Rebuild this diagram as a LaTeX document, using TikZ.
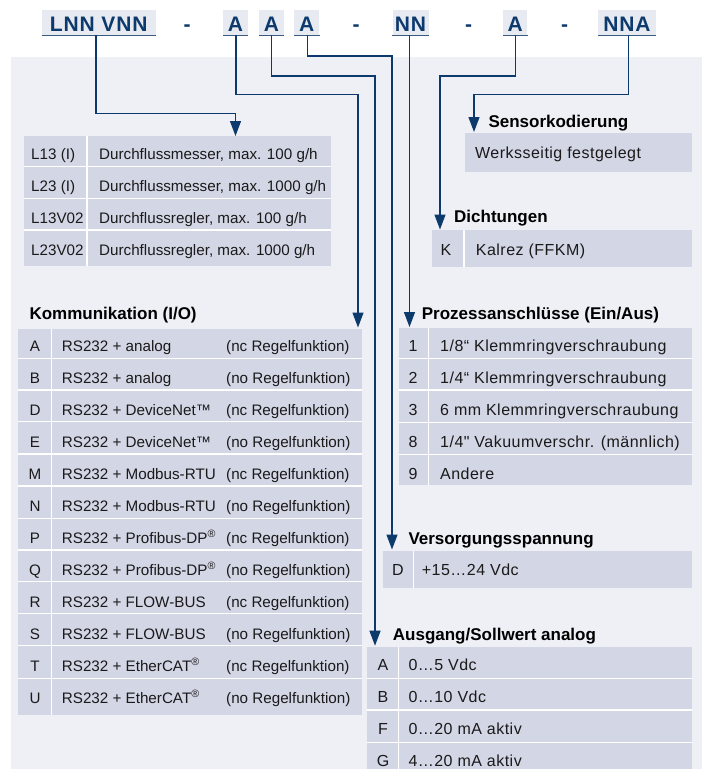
\documentclass[tikz,border=0pt]{standalone}
\usepackage{fontspec}
\setmainfont{Liberation Sans}
\newfontfamily\rfont{Liberation Sans}[LetterSpace=3]
\newfontfamily\cfont{Liberation Sans}[LetterSpace=4]
\usetikzlibrary{arrows.meta}
\definecolor{panel}{HTML}{EFF0F6}
\definecolor{cell}{HTML}{D3D6E5}
\definecolor{navy}{HTML}{0C3A6C}
\definecolor{codebg}{HTML}{E8EAF2}
\definecolor{uline}{HTML}{3B5A82}
\definecolor{txt}{HTML}{1A1A1A}
\tikzset{
  conn/.style={draw=navy, line width=1.3pt, -{Triangle[length=15pt,width=11pt]}},
  codebox/.style={fill=codebg, inner sep=0pt, minimum height=25pt, text=navy,
    font=\cfont\bfseries\fontsize{21}{24}\selectfont, text height=17pt, text depth=0pt},
  dashmark/.style={inner sep=0pt, anchor=base, text=navy, font=\cfont\bfseries\fontsize{21}{24}\selectfont},
  head/.style={anchor=base west, inner sep=0pt, font=\bfseries\fontsize{17}{20}\selectfont, text=black},
  lt/.style={anchor=base west, inner sep=0pt, font=\fontsize{15.2}{18}\selectfont, text=txt},
  lc/.style={lt, anchor=base},
  rt/.style={anchor=base west, inner sep=0pt, font=\rfont\fontsize{16}{19}\selectfont, text=txt},
  rc/.style={rt, anchor=base},
  sep/.style={draw=white, line width=1.3pt},
  ul/.style={draw=uline, line width=1pt}
}
\begin{document}
\begin{tikzpicture}[x=1pt,y=-1pt]
\useasboundingbox (0,0) rectangle (705,769);
\fill[white] (0,0) rectangle (705,769);
\fill[panel] (11,57) rectangle (702,769);

% ---- code row ----
\node[codebox, minimum width=114pt] (cLNN) at (98.7,22.5) {LNN VNN};
\node[codebox, minimum width=24.4pt] (cA1) at (235.5,22.5) {A};
\node[codebox, minimum width=25pt] (cA2) at (271.5,22.5) {A};
\node[codebox, minimum width=25pt] (cA3) at (306.8,22.5) {A};
\node[codebox, minimum width=36pt] (cNN) at (410.5,22.5) {NN};
\node[codebox, minimum width=24.5pt] (cA4) at (515.2,22.5) {A};
\node[codebox, minimum width=58pt] (cNNA) at (627,22.5) {NNA};
\foreach \n in {cLNN,cA1,cA2,cA3,cNN,cA4,cNNA}
  \draw[ul] (\n.south west) -- (\n.south east);
\node[dashmark] (d1) at (187,31) {-};
\node[dashmark] (d2) at (356,31) {-};
\node[dashmark] (d3) at (468.5,31) {-};
\node[dashmark] (d4) at (564.5,31) {-};

% ---- table: type ----
\fill[cell] (24,136) rectangle (331,265.7);
\foreach \y in {166.7,198.3,230} \draw[sep] (24,\y) -- (331,\y);
\draw[sep] (87,136) -- (87,265.7);
\node[lt] (t1a) at (31,159.3) {L13 (I)};
\node[lt] (t1b) at (99,159.3) {Durchflussmesser, max. 100 g/h};
\node[lt] (t2a) at (31,191) {L23 (I)};
\node[lt] (t2b) at (99,191) {Durchflussmesser, max. 1000 g/h};
\node[lt] (t3a) at (31,223) {L13V02};
\node[lt] (t3b) at (99,223) {Durchflussregler, max. 100 g/h};
\node[lt] (t4a) at (31,255) {L23V02};
\node[lt] (t4b) at (99,255) {Durchflussregler, max. 1000 g/h};

% ---- Kommunikation ----
\node[head] (hK) at (29.3,319) {Kommunikation (I/O)};
\fill[cell] (18.3,328.5) rectangle (361.7,715);
\foreach \y in {358.3,390,421.7,454,486,518.3,550,581.7,613.3,645.7,678.3}
  \draw[sep] (18.3,\y) -- (361.7,\y);
\draw[sep] (51.7,328.5) -- (51.7,715);
\foreach \l/\t/\r [count=\i from 0] in {A/analog/nc, B/analog/no,
    D/DeviceNet™/nc, E/DeviceNet™/no, M/Modbus-RTU/nc, N/Modbus-RTU/no,
    P/{Profibus-DP\textsuperscript{®}}/nc, Q/{Profibus-DP\textsuperscript{®}}/no,
    R/FLOW-BUS/nc, S/FLOW-BUS/no, T/{EtherCAT\textsuperscript{®}}/nc, U/{EtherCAT\textsuperscript{®}}/no}{
  \node[lc] (k\l1) at (35,{351+32*\i}) {\l};
  \node[lt] (k\l2) at (61.7,{351+32*\i}) {RS232 + \t};
  \node[lt] (k\l3) at (226,{351+32*\i}) {(\r\ Regelfunktion)};
}

% ---- Sensorkodierung ----
\node[head] (hS) at (488.3,127.7) {Sensorkodierung};
\fill[cell] (465,132.7) rectangle (691.7,172.3);
\node[rt] (s1) at (475,158.3) {Werksseitig festgelegt};

% ---- Dichtungen ----
\node[head] (hD) at (454,222.7) {Dichtungen};
\fill[cell] (432,230) rectangle (691.7,266.7);
\draw[sep] (464,230) -- (464,266.7);
\node[rc] (dk1) at (446,255) {K};
\node[rt] (dk2) at (475.7,255) {Kalrez (FFKM)};

% ---- Prozessanschluesse ----
\node[head] (hP) at (421.7,319.3) {Prozessanschlüsse (Ein/Aus)};
\fill[cell] (399,327.7) rectangle (691.7,485);
\foreach \y in {358.3,390,422.3,454.3} \draw[sep] (399,\y) -- (691.7,\y);
\draw[sep] (428.7,327.7) -- (428.7,485);
\node[rc] (p1a) at (413,351.7) {1};
\node[rt] (p1b) at (440,351.7) {1/8“ Klemmringverschraubung};
\node[rc] (p2a) at (413,383.5) {2};
\node[rt] (p2b) at (440,383.5) {1/4“ Klemmringverschraubung};
\node[rc] (p3a) at (413,415.5) {3};
\node[rt] (p3b) at (440,415.5) {6 mm Klemmringverschraubung};
\node[rc] (p4a) at (413,447.5) {8};
\node[rt] (p4b) at (440,447.5) {1/4" Vakuumverschr. (männlich)};
\node[rc] (p5a) at (413,479.3) {9};
\node[rt] (p5b) at (440,479.3) {Andere};

% ---- Versorgungsspannung ----
\node[head] (hV) at (408.3,544.3) {Versorgungsspannung};
\fill[cell] (382.7,550.7) rectangle (691.7,587.7);
\draw[sep] (413.3,550.7) -- (413.3,587.7);
\node[rc] (v1) at (398,575) {D};
\node[rt] (v2) at (421.7,575) {+15…24 Vdc};

% ---- Ausgang ----
\node[head] (hA) at (392.7,640) {Ausgang/Sollwert analog};
\fill[cell] (366.7,646.7) rectangle (691.7,769);
\foreach \y in {678.3,710,742.3} \draw[sep] (366.7,\y) -- (691.7,\y);
\draw[sep] (398.3,646.7) -- (398.3,769);
\node[rc] (a1a) at (383,670.7) {A};
\node[rt] (a1b) at (408.3,670.7) {0…5 Vdc};
\node[rc] (a2a) at (383,702.5) {B};
\node[rt] (a2b) at (408.3,702.5) {0…10 Vdc};
\node[rc] (a3a) at (383,734.5) {F};
\node[rt] (a3b) at (408.3,734.5) {0…20 mA aktiv};
\node[rc] (a4a) at (383,766.5) {G};
\node[rt] (a4b) at (408.3,766.5) {4…20 mA aktiv};

% ---- connector targets ----
\coordinate (eLNN) at (235.5,136);
\coordinate (eK) at (358,327.5);
\coordinate (eAus) at (375,645.7);
\coordinate (eVer) at (392,549.5);
\coordinate (eP) at (409.5,327);
\coordinate (eD) at (440,229.5);
\coordinate (eS) at (474,132);

% ---- connectors ----
\draw[conn] ([xshift=-2.7pt]cLNN.south) |- (eLNN |- 0,113.3) -- (eLNN);
\draw[conn] ([xshift=0.5pt]cA1.south) |- (eK |- 0,94.3) -- (eK);
\draw[conn] (cA2.south) |- (eAus |- 0,76) -- (eAus);
\draw[conn] ([xshift=1pt]cA3.south) |- (eVer |- 0,56) -- (eVer);
\draw[conn] ([xshift=-1pt]cNN.south) -- (eP);
\draw[conn] ([xshift=0.6pt]cA4.south) |- (eD |- 0,76) -- (eD);
\draw[conn] ([xshift=1.3pt]cNNA.south) |- (eS |- 0,94.3) -- (eS);
\end{tikzpicture}
\end{document}
